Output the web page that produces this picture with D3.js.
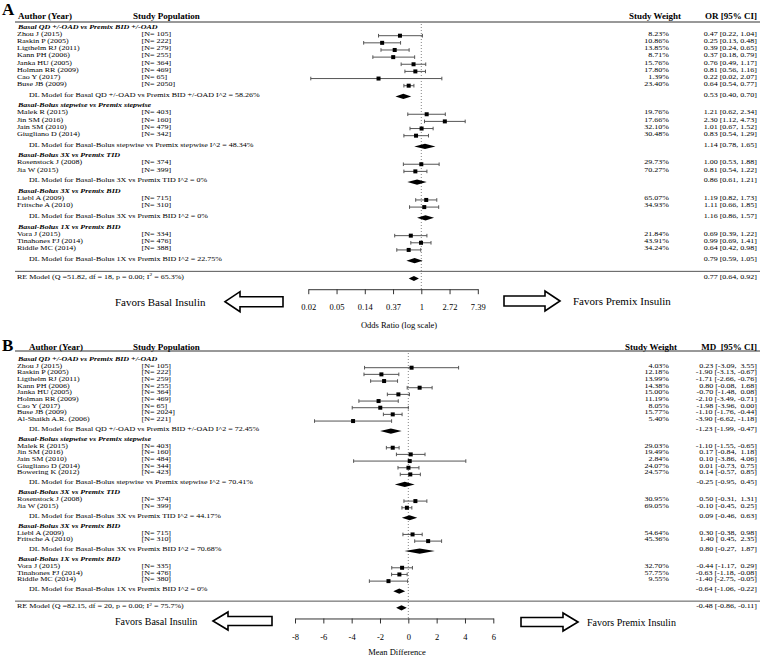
<!DOCTYPE html>
<html><head><meta charset="utf-8">
<script src="https://cdn.jsdelivr.net/npm/d3@7"></script>
<style>
body{margin:0;background:#fff}
text{font-family:"Liberation Serif","Times New Roman",serif;fill:#000;white-space:pre}
</style>
</head><body>
<svg id="c" width="770" height="659"></svg>
<script>
// ---------------- DATA: Panel A (Odds Ratio) ----------------
const groupsA = ["Basal QD +/-OAD vs Premix BID +/-OAD","Basal-Bolus stepwise vs Premix stepwise","Basal-Bolus 3X vs Premix TID","Basal-Bolus 3X vs Premix BID","Basal-Bolus 1X vs Premix BID"];
const authorsA = ["Zhou J (2015)","Raskin P (2005)","Ligthelm RJ (2011)","Kann PH (2006)","Janka HU (2005)","Holman RR (2009)","Cao Y (2017)","Buse JB (2009)",
  "Malek R (2015)","Jin SM (2016)","Jain SM (2010)","Giugliano D (2014)",
  "Rosenstock J (2008)","Jia W (2015)",
  "Liebl A (2009)","Fritsche A (2010)",
  "Vora J (2015)","Tinahones FJ (2014)","Riddle MC (2014)"];
const groupOfA = [0,0,0,0,0,0,0,0,1,1,1,1,2,2,3,3,4,4,4];
const nA = [105,222,279,255,364,469,65,2050,403,160,479,342,374,399,715,310,334,476,388];
const weightA = ["8.23%","10.86%","13.85%","8.71%","15.76%","17.80%","1.39%","23.40%","19.76%","17.66%","32.10%","30.48%","29.73%","70.27%","65.07%","34.93%","21.84%","43.91%","34.24%"];
const estA = [0.47,0.25,0.39,0.37,0.76,0.81,0.22,0.64,1.21,2.30,1.01,0.83,1.00,0.81,1.19,1.11,0.69,0.99,0.64];
const loA  = [0.22,0.13,0.24,0.18,0.49,0.56,0.02,0.54,0.62,1.12,0.67,0.54,0.53,0.54,0.82,0.66,0.39,0.69,0.42];
const hiA  = [1.04,0.48,0.65,0.79,1.17,1.16,2.07,0.77,2.34,4.73,1.52,1.29,1.88,1.22,1.73,1.85,1.22,1.41,0.98];
const subEstA = [0.53,1.14,0.86,1.16,0.79];
const subLoA  = [0.40,0.78,0.61,0.86,0.59];
const subHiA  = [0.70,1.65,1.21,1.57,1.05];
const subI2A  = ["I^2 = 58.26%","I^2 = 48.34%","I^2 = 0%","I^2 = 0%","I^2 = 22.75%"];
const overallA = {est:0.77, lo:0.64, hi:0.92, q:"51.82", df:"18", p:"0.00", i2:"65.3%"};
const ticksA = [0.0183,0.0498,0.1353,0.3679,1,2.7183,7.3891];
const tickLabelsA = ["0.02","0.05","0.14","0.37","1","2.72","7.39"];

// ---------------- DATA: Panel B (Mean Difference) ----------------
const groupsB = groupsA;
const authorsB = ["Zhou J (2015)","Raskin P (2005)","Ligthelm RJ (2011)","Kann PH (2006)","Janka HU (2005)","Holman RR (2009)","Cao Y (2017)","Buse JB (2009)","Al-Shaikh A.R. (2006)",
  "Malek R (2015)","Jin SM (2016)","Jain SM (2010)","Giugliano D (2014)","Bowering K (2012)",
  "Rosenstock J (2008)","Jia W (2015)",
  "Liebl A (2009)","Fritsche A (2010)",
  "Vora J (2015)","Tinahones FJ (2014)","Riddle MC (2014)"];
const groupOfB = [0,0,0,0,0,0,0,0,0,1,1,1,1,1,2,2,3,3,4,4,4];
const nB = [105,222,259,255,364,469,65,2024,221,403,160,484,344,423,374,399,715,310,335,476,380];
const weightB = ["4.03%","12.18%","13.99%","14.38%","15.00%","11.19%","8.05%","15.77%","5.40%","29.03%","19.49%","2.84%","24.07%","24.57%","30.95%","69.05%","54.64%","45.36%","32.70%","57.75%","9.55%"];
const estB = [0.23,-1.90,-1.71,0.80,-0.70,-2.10,-1.98,-1.10,-3.90,-1.10,0.17,0.10,0.01,0.14,0.50,-0.10,0.30,1.40,-0.44,-0.63,-1.40];
const loB  = [-3.09,-3.13,-2.66,-0.08,-1.48,-3.49,-3.96,-1.76,-6.62,-1.55,-0.84,-3.86,-0.73,-0.57,-0.31,-0.45,-0.38,0.45,-1.17,-1.18,-2.75];
const hiB  = [3.55,-0.67,-0.76,1.68,0.08,-0.71,-0.00,-0.44,-1.18,-0.65,1.18,4.06,0.75,0.85,1.31,0.25,0.98,2.35,0.29,-0.08,-0.05];
const subEstB = [-1.23,-0.25,0.09,0.80,-0.64];
const subLoB  = [-1.99,-0.95,-0.46,-0.27,-1.06];
const subHiB  = [-0.47,0.45,0.63,1.87,-0.22];
const subI2B  = ["I^2 = 72.45%","I^2 = 70.41%","I^2 = 44.17%","I^2 = 70.68%","I^2 = 0%"];
const overallB = {est:-0.48, lo:-0.86, hi:-0.11, q:"82.15", df:"20", p:"0.00", i2:"75.7%"};
const ticksB = [-8,-6,-4,-2,0,2,4,6];
const tickLabelsB = ["-8","-6","-4","-2","0","2","4","6"];

// ---------------- DRAWING ----------------
const svg = d3.select("#c");
svg.append("rect").attr("width",770).attr("height",659).attr("fill","#fff");

function pad(v){ const s = (Math.abs(v) < 0.005 && v < 0 ? "-0.00" : v.toFixed(2)); return s.length < 5 ? " " + s : s; }
function fmtCI(e,l,h,signed){
  if(!signed) return e.toFixed(2)+" ["+l.toFixed(2)+", "+h.toFixed(2)+"]";
  return pad(e).trim()+" ["+pad(l)+", "+pad(h)+"]";
}

function drawPanel(c){
  const g = svg.append("g");
  const fs = 8;
  const tY = r => c.rowY(r) + c.textShift;          // text center
  // text helper; sy squeezes row text vertically (as in the reference)
  const T = (x,yc,str,opts={}) => {
    const size = opts.size||fs, sy = opts.sy||1;
    const t = g.append("text")
      .attr("transform",`translate(${x},${yc + size*0.35*sy}) scale(1,${sy})`)
      .attr("font-size",size).text(str);
    if(opts.anchor) t.attr("text-anchor",opts.anchor);
    if(opts.weight) t.attr("font-weight",opts.weight);
    if(opts.italic) t.attr("font-style","italic");
    return t;
  };
  const sq = c.squeeze;
  // panel letter
  g.append("text").attr("x",2).attr("y",c.labelBase).attr("font-size",17).attr("font-weight","bold").text(c.label);
  // headers
  T(c.authorX, c.headY, "Author (Year)", {size:9, weight:"bold"});
  T(133, c.headY, "Study Population", {size:9, weight:"bold"});
  T(c.weightHeadX, c.headY, "Study Weight", {size:9, weight:"bold", anchor:"middle"});
  T(757, c.headY, c.ciHead, {size:9, weight:"bold", anchor:"end"});
  g.append("line").attr("x1",15).attr("x2",760).attr("y1",c.lineY).attr("y2",c.lineY).attr("stroke","#333").attr("stroke-width",1);

  // rows
  let r = -1;
  const rows = [];
  c.groups.forEach((gname, gi) => {
    const idx = c.groupOf.map((v,i)=>v===gi?i:-1).filter(i=>i>=0);
    const hdr = r;
    rows.push({type:"hdr", r:hdr, gi});
    let rr = hdr + 1;
    idx.forEach(i => { rows.push({type:"st", r:rr, i}); rr++; });
    const dl = rr - 1 + 1.5;
    rows.push({type:"dl", r:dl, gi});
    r = dl + 1.5;
  });
  const lastDL = rows[rows.length-1].r;
  const reLine = lastDL + 1.5, reRow = reLine + 1;
  const axisY = c.rowY(reRow + c.axisGap);
  const x = c.x;

  // null line
  g.append("line").attr("x1",x(c.nullV)).attr("x2",x(c.nullV)).attr("y1",c.lineY+2).attr("y2",axisY)
    .attr("stroke","#666").attr("stroke-width",0.8).attr("stroke-dasharray","1,2");

  function diamond(e,l,h,y){
    g.append("path").attr("d",`M${x(l)},${y}L${x(e)},${y-2.6}L${x(h)},${y}L${x(e)},${y+2.6}Z`).attr("fill","#000");
  }
  rows.forEach(o => {
    const y = c.rowY(o.r), ty = tY(o.r);
    if(o.type==="hdr"){
      T(18, ty, c.groups[o.gi], {weight:"bold", italic:true, sy:sq});
    } else if(o.type==="st"){
      const i = o.i;
      T(17, ty, c.authors[i], {sy:sq});
      T(141.5, ty, "[N= "+c.n[i]+"]", {sy:sq});
      T(669, ty, c.weight[i], {anchor:"end", sy:sq});
      T(757, ty, fmtCI(c.est[i],c.lo[i],c.hi[i],c.signed), {anchor:"end", sy:sq});
      const x1 = x(c.lo[i]), x2 = x(c.hi[i]);
      g.append("line").attr("x1",x1).attr("x2",x2).attr("y1",y).attr("y2",y).attr("stroke","#555").attr("stroke-width",1);
      [x1,x2].forEach(xx=>g.append("line").attr("x1",xx).attr("x2",xx).attr("y1",y-1.8).attr("y2",y+1.8).attr("stroke","#555").attr("stroke-width",1));
      g.append("rect").attr("x",x(c.est[i])-2).attr("y",y-2).attr("width",4).attr("height",4).attr("fill","#000");
    } else if(o.type==="dl"){
      const gi = o.gi;
      T(29, ty, "DL Model for "+c.groups[gi]+" "+c.subI2[gi], {sy:sq});
      T(757, ty, fmtCI(c.subEst[gi],c.subLo[gi],c.subHi[gi],c.signed), {anchor:"end", sy:sq});
      diamond(c.subEst[gi],c.subLo[gi],c.subHi[gi],y);
    }
  });
  // RE line and model
  const ly = c.rowY(reLine);
  g.append("line").attr("x1",15).attr("x2",760).attr("y1",ly).attr("y2",ly).attr("stroke","#555").attr("stroke-width",1);
  const ov = c.overall;
  const ret = T(17, tY(reRow), "RE Model (Q ="+ov.q+", df = "+ov.df+", p = "+ov.p+"; I", {sy:sq});
  ret.append("tspan").attr("font-size",5.5).attr("dy",-3).text("2");
  ret.append("tspan").attr("dy",3).text(" = "+ov.i2+")");
  T(757, tY(reRow), fmtCI(ov.est,ov.lo,ov.hi,c.signed), {anchor:"end", sy:sq});
  diamond(ov.est,ov.lo,ov.hi,c.rowY(reRow));

  // axis
  const ax = d3.axisBottom(x).tickValues(c.ticks).tickFormat((d,i)=>c.tickLabels[i]).tickSize(5).tickSizeOuter(0).tickPadding(10);
  const ag = g.append("g").attr("transform",`translate(0,${axisY})`).call(ax);
  ag.select(".domain").attr("stroke","#333");
  ag.selectAll(".tick line").attr("stroke","#333");
  ag.selectAll("text").attr("font-size",8.5).attr("font-family","Liberation Serif").attr("fill","#000");
  T(c.titleX, c.titleY, c.axisTitle, {size:8.5, anchor:"middle"});

  // arrows & favors text
  const L = c.arrowL, R = c.arrowR;
  g.append("path").attr("d",`M${L.x0},${L.y}L${L.x0+15},${L.y-L.h}L${L.x0+15},${L.y-L.h/2}L${L.x1},${L.y-L.h/2}L${L.x1},${L.y+L.h/2}L${L.x0+15},${L.y+L.h/2}L${L.x0+15},${L.y+L.h}Z`)
    .attr("fill","#fff").attr("stroke","#000").attr("stroke-width",1.6);
  g.append("path").attr("d",`M${R.x1},${R.y}L${R.x1-15},${R.y-R.h}L${R.x1-15},${R.y-R.h/2}L${R.x0},${R.y-R.h/2}L${R.x0},${R.y+R.h/2}L${R.x1-15},${R.y+R.h/2}L${R.x1-15},${R.y+R.h}Z`)
    .attr("fill","#fff").attr("stroke","#000").attr("stroke-width",1.6);
  T(115, L.y, "Favors Basal Insulin", {size:c.favSize});
  T(R.tx, R.y, "Favors Premix Insulin", {size:c.favSize});
}

drawPanel({
  label:"A", labelBase:15, headY:16, lineY:22, authorX:18, weightHeadX:655, ciHead:"OR [95% CI]",
  rowY:d3.scaleLinear().domain([0,34]).range([35.7,278.5]), textShift:-2, squeeze:0.8,
  x:d3.scaleLog().base(Math.E).domain([Math.exp(-4),Math.exp(2)]).range([308.3,477.8]),
  nullV:1, signed:false, axisGap:1.5,
  groups:groupsA, groupOf:groupOfA, authors:authorsA, n:nA, weight:weightA, est:estA, lo:loA, hi:hiA,
  subEst:subEstA, subLo:subLoA, subHi:subHiA, subI2:subI2A, overall:overallA,
  ticks:ticksA, tickLabels:tickLabelsA, axisTitle:"Odds Ratio (log scale)", titleX:399, titleY:325,
  arrowL:{x0:225,x1:283,y:301.7,h:10}, arrowR:{x0:504,x1:560,y:301,h:10,tx:573}, favSize:11
});
drawPanel({
  label:"B", labelBase:351, headY:347, lineY:351, authorX:29, weightHeadX:651, ciHead:"MD  [95% CI]",
  rowY:d3.scaleLinear().domain([0,36]).range([367.7,607.8]), textShift:-2, squeeze:0.74,
  x:d3.scaleLinear().domain([-8,6]).range([295,493.3]),
  nullV:0, signed:true, axisGap:1.6,
  groups:groupsB, groupOf:groupOfB, authors:authorsB, n:nB, weight:weightB, est:estB, lo:loB, hi:hiB,
  subEst:subEstB, subLo:subLoB, subHi:subHiB, subI2:subI2B, overall:overallB,
  ticks:ticksB, tickLabels:tickLabelsB, axisTitle:"Mean Difference", titleX:397, titleY:652,
  arrowL:{x0:213,x1:272,y:621,h:9}, arrowR:{x0:521,x1:578,y:622,h:9,tx:587}, favSize:10
});
</script>
</body></html>
